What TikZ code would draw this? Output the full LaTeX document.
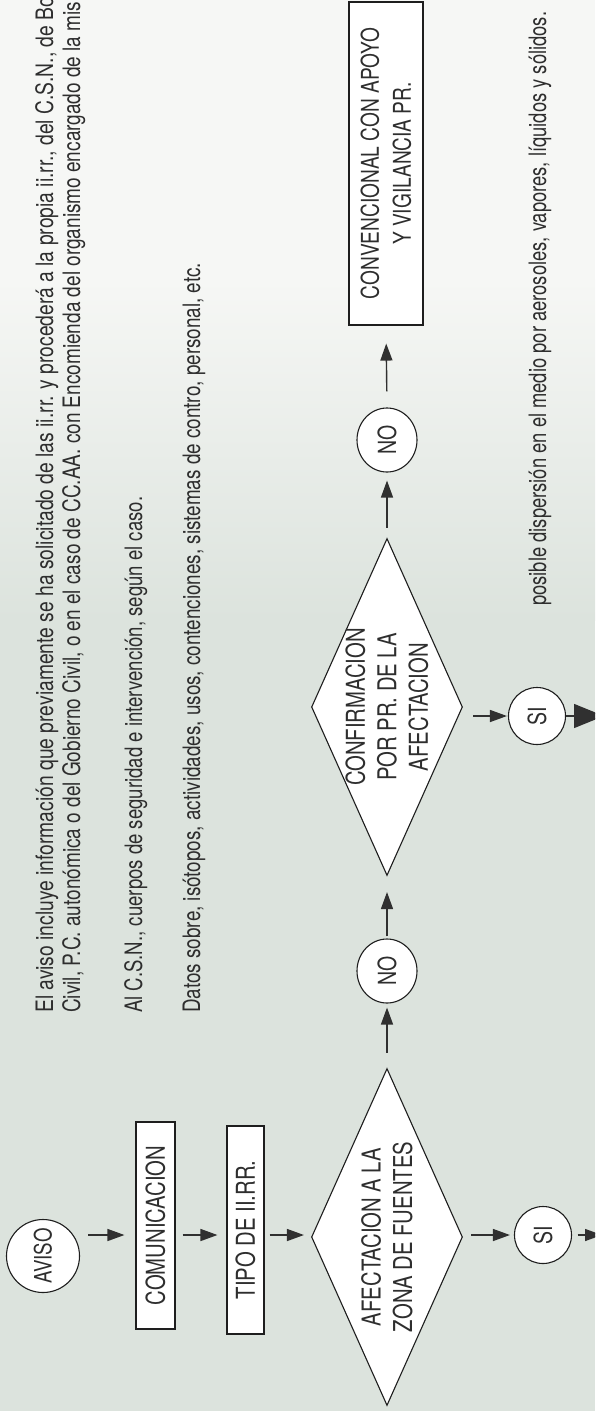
\documentclass[tikz,border=0pt]{standalone}
\usepackage{fontspec}
\setmainfont{TeX Gyre Heros}[FakeStretch=0.78]
\usetikzlibrary{arrows.meta,shapes.geometric}
\definecolor{bgtop}{HTML}{F6F7F5}
\definecolor{bgbot}{HTML}{DCE3DD}
\definecolor{ink}{HTML}{2E2E2E}
\definecolor{linec}{HTML}{1E1E1E}
\definecolor{arrc}{HTML}{303030}
\begin{document}
\begin{tikzpicture}[x=1pt,y=1pt,
  body/.style={anchor=base west, inner sep=0pt, text=ink, font=\fontsize{24}{28}\selectfont},
  box/.style={draw=linec, line width=1.1pt, fill=white, rectangle, inner sep=0pt, text=ink, font=\fontsize{26}{32}\selectfont, align=center},
  dec/.style={draw=linec, line width=1.1pt, fill=white, diamond, aspect=2.23, inner sep=-6pt, minimum width=337pt, minimum height=151pt, text=ink, font=\fontsize{26}{31.5}\selectfont, align=center},
  oval/.style={draw=linec, line width=1.1pt, fill=white, ellipse, inner sep=-8pt, text=ink, font=\fontsize{25}{30}\selectfont},
  arr/.style={draw=arrc, line width=1.4pt, -{Triangle[length=17pt,width=12pt]}},
  bigarr/.style={draw=arrc, line width=1.4pt, -{Triangle[length=30pt,width=24pt]}},
]
\useasboundingbox (0,0) rectangle (595,-1411);
\clip (0,0) rectangle (595,-1411);
\fill[bgtop] (0,0) rectangle (595,-280);
\shade[top color=bgtop, bottom color=bgbot] (0,-279.5) rectangle (595,-620);
\fill[bgbot] (0,-619.5) rectangle (595,-1411);

\begin{scope}[shift={(0,-1411)}, rotate=90, transform shape]
  % body texts
  \node[body] (t1) at (398,-53) {\resizebox{1016pt}{\height}{El aviso incluye información que previamente se ha solicitado de las ii.rr. y procederá a la propia ii.rr., del C.S.N., de Bo}};
  \node[body] (t2) at (398,-80) {\resizebox{1027pt}{\height}{Civil, P.C. autonómica o del Gobierno Civil, o en el caso de CC.AA. con Encomienda del organismo encargado de la mism}};
  \node[body] (t3) at (398,-142) {\resizebox{516pt}{\height}{Al C.S.N., cuerpos de seguridad e intervención, según el caso.}};
  \node[body] (t4) at (398,-200) {\resizebox{750pt}{\height}{Datos sobre, isótopos, actividades, usos, contenciones, sistemas de contro, personal, etc.}};
  \node[body] (t5) at (805,-546) {\resizebox{594pt}{\height}{posible dispersión en el medio por aerosoles, vapores, líquidos y sólidos.}};

  % nodes
  \node[oval, minimum width=73pt, minimum height=73pt, font=\fontsize{24}{28}\selectfont] (aviso) at (155,-43) {AVISO};
  \node[box, minimum width=207pt, minimum height=39pt] (comm) at (185.5,-155.5) {COMUNICACION};
  \node[box, minimum width=208pt, minimum height=37pt] (tipo) at (181,-245.5) {TIPO DE II.RR.};
  \node[dec] (d1) at (174,-387) {AFECTACION A LA\\ZONA DE FUENTES};
  \node[oval, minimum width=57pt, minimum height=57pt] (si1) at (176,-543) {SI};
  \node[oval, minimum width=64pt, minimum height=60pt] (no1) at (440,-387) {NO};
  \node[dec] (d2) at (704,-387) {CONFIRMACION\\POR PR. DE LA\\AFECTACION};
  \node[oval, minimum width=57pt, minimum height=57pt] (si2) at (695,-537) {SI};
  \node[oval, minimum width=64pt, minimum height=60pt] (no2) at (971,-387) {NO};
  \node[box, minimum width=323pt, minimum height=74pt, font=\fontsize{24.5}{32}\selectfont] (conv) at (1247.5,-386) {CONVENCIONAL CON APOYO\\Y VIGILANCIA PR.};

  \coordinate (row) at (176,0);
  \coordinate (e1) at (176,-602);
  \coordinate (e2) at (695,-604);

  % bottom row (|- works in the rotated frame: x of first, y of second)
  \draw[arr, shorten <=8pt, shorten >=11pt] (row |- aviso.south) -- (row |- comm.north);
  \draw[arr, shorten <=7pt, shorten >=9pt] (row |- comm.south) -- (row |- tipo.north);
  \draw[arr, shorten <=5pt, shorten >=7pt] (row |- tipo.south) -- (row |- d1.north);
  \draw[arr, shorten <=8pt, shorten >=4pt] (row |- d1.south) -- (si1.north);
  \draw[arr, shorten <=5.5pt] (si1.south) -- (e1);

  % column
  \draw[arr, shorten <=15pt, shorten >=4pt] (d1.east) -- (no1.west);
  \draw[arr, shorten <=2pt, shorten >=16pt] (no1.east) -- (d2.west);
  \draw[arr, shorten <=10pt, shorten >=8pt] (d2.east) -- (no2.west);
  \draw[arr, shorten <=16pt, shorten >=18pt] (no2.east) -- (conv.west);

  % second SI
  \draw[arr, shorten <=10pt, shorten >=1pt] (si2.north |- d2.south) -- (si2.north);
  \draw[bigarr] (si2.south) -- (e2);
\end{scope}
\end{tikzpicture}
\end{document}
